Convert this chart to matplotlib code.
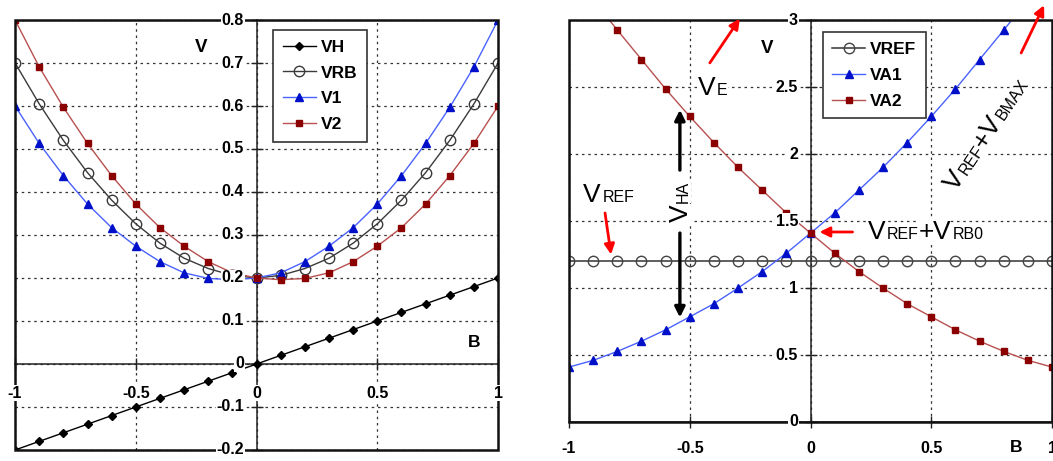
import numpy as np
import matplotlib
matplotlib.use('Agg')
import matplotlib.pyplot as plt
from matplotlib.patches import Rectangle
from matplotlib.textpath import TextPath
from matplotlib.font_manager import FontProperties

plt.rcParams['font.family'] = ['Liberation Sans', 'DejaVu Sans']

# ---- data ----
B = [-1.0, -0.9, -0.8, -0.7, -0.6, -0.5, -0.4, -0.3, -0.2, -0.1, 0.0,
     0.1, 0.2, 0.3, 0.4, 0.5, 0.6, 0.7, 0.8, 0.9, 1.0]

# left panel
VH = [-0.2, -0.18, -0.16, -0.14, -0.12, -0.1, -0.08, -0.06, -0.04, -0.02, 0.0,
      0.02, 0.04, 0.06, 0.08, 0.1, 0.12, 0.14, 0.16, 0.18, 0.2]
VRB = [0.70, 0.605, 0.52, 0.445, 0.381, 0.326, 0.281, 0.246, 0.222, 0.206, 0.20,
       0.206, 0.222, 0.246, 0.281, 0.326, 0.381, 0.445, 0.52, 0.605, 0.70]
V1 = [0.60, 0.513, 0.438, 0.372, 0.317, 0.274, 0.238, 0.212, 0.199, 0.196, 0.20,
      0.212, 0.238, 0.274, 0.317, 0.372, 0.438, 0.513, 0.597, 0.691, 0.80]
V2 = [0.80, 0.691, 0.597, 0.513, 0.438, 0.372, 0.317, 0.274, 0.238, 0.212, 0.20,
      0.196, 0.199, 0.212, 0.238, 0.274, 0.317, 0.372, 0.438, 0.513, 0.60]

# right panel
VREF = [1.2] * 21
B_A1 = B[:20]
VA1 = [0.41, 0.46, 0.527, 0.603, 0.688, 0.785, 0.883, 1.0, 1.123, 1.26, 1.41,
       1.56, 1.73, 1.90, 2.085, 2.28, 2.485, 2.705, 2.925, 3.15]
B_A2 = B[1:]
VA2 = [3.15, 2.925, 2.705, 2.485, 2.28, 2.085, 1.90, 1.73, 1.56, 1.41,
       1.26, 1.123, 1.0, 0.883, 0.785, 0.688, 0.603, 0.527, 0.46, 0.41]

LEFT_YTICKS = [0.8, 0.7, 0.6, 0.5, 0.4, 0.3, 0.2, 0.1, 0.0, -0.1, -0.2]
LEFT_YLABELS = ['0.8', '0.7', '0.6', '0.5', '0.4', '0.3', '0.2', '0.1', '0', '-0.1', '-0.2']
RIGHT_YTICKS = [3.0, 2.5, 2.0, 1.5, 1.0, 0.5, 0.0]
RIGHT_YLABELS = ['3', '2.5', '2', '1.5', '1', '0.5', '0']
XTICKS = [-1.0, -0.5, 0.0, 0.5, 1.0]
XLABELS = ['-1', '-0.5', '0', '0.5', '1']

BLUE_L, BLUE_M = '#4a62ff', '#0010c8'
RED_L, RED_M = '#b85050', '#8b0000'
GREY = '#3a3a3a'
WHITE_BOX = dict(facecolor='white', edgecolor='none', pad=0.6)


def frame_axes(ax, xlim, ylim, yticks, xticks):
    ax.set_xlim(*xlim)
    ax.set_ylim(*ylim)
    ax.set_yticks(yticks)
    ax.set_xticks(xticks)
    ax.spines['left'].set_position(('data', 0))
    ax.spines['bottom'].set_position(('data', 0))
    for s in ('left', 'bottom'):
        ax.spines[s].set_linewidth(1.1)
        ax.spines[s].set_color('#222222')
    for s in ('top', 'right'):
        ax.spines[s].set_visible(False)
    ax.add_patch(Rectangle((0, 0), 1, 1, transform=ax.transAxes, fill=False,
                           lw=1.8, ec='#111111', zorder=5, clip_on=False))
    ax.tick_params(direction='inout', length=8, width=1, color='#222222',
                   labelleft=False, labelbottom=False)
    ax.grid(True, ls=(0, (2, 3)), color='#333333', lw=0.9)
    ax.set_axisbelow(True)


def tick_labels(ax, yticks, ylabels, xlabels, xoff):
    for y, s in zip(yticks, ylabels):
        ax.annotate(s, xy=(0, y), xytext=(-9, 0), textcoords='offset points',
                    ha='right', va='center', fontsize=11.5, fontweight='bold',
                    bbox=WHITE_BOX, zorder=6, annotation_clip=False)
    for x, s in zip(XTICKS, xlabels):
        ax.annotate(s, xy=(x, 0), xytext=(0, xoff), textcoords='offset points',
                    ha='center', va='center', fontsize=11.5, fontweight='bold',
                    bbox=WHITE_BOX, zorder=6, annotation_clip=False)


def sub_label(ax, x, y, parts, rot=0):
    """big V + small subscript letters sitting on the same baseline."""
    ang = np.deg2rad(rot)
    off = 0.0
    for s, size in parts:
        ax.annotate(s, xy=(x, y), xytext=(off * np.cos(ang), off * np.sin(ang)),
                    textcoords='offset points', fontsize=size, rotation=rot,
                    rotation_mode='anchor', ha='left', va='baseline',
                    bbox=dict(facecolor='white', edgecolor='none', pad=0.3),
                    zorder=6, annotation_clip=False)
        fp = FontProperties(family='Liberation Sans', size=size)
        w = TextPath((0, 0), s, size=size, prop=fp).get_extents().width
        off += w + 0.08 * size


def arrow(ax, tail, head, color, lw=2.0):
    ax.annotate('', xy=head, xytext=tail,
                arrowprops=dict(arrowstyle='-|>', color=color, lw=lw,
                                mutation_scale=15, shrinkA=0, shrinkB=0),
                annotation_clip=False, zorder=7)


def add_legend(ax, anchor):
    leg = ax.legend(loc='upper left', bbox_to_anchor=anchor, borderaxespad=0,
                    fancybox=False, edgecolor='#333333', framealpha=1,
                    prop={'weight': 'bold', 'size': 12.5}, handlelength=1.9,
                    handletextpad=0.3, labelspacing=0.62, borderpad=0.55)
    leg.get_frame().set_linewidth(1.2)
    leg.set_zorder(8)


fig = plt.figure(figsize=(10.53, 4.61), dpi=100)

# ---------------- left panel ----------------
ax1 = fig.add_axes([0.0143, 0.0239, 0.4587, 0.9327])
frame_axes(ax1, (-1, 1), (-0.2, 0.8), LEFT_YTICKS, XTICKS)

ax1.plot(B, VH, color='black', lw=1, marker='D', ms=3.8, label='VH', zorder=3)
ax1.plot(B, VRB, color=GREY, lw=1, marker='o', ms=7.5, mfc='none', mec=GREY,
         mew=1, label='VRB', zorder=3)
ax1.plot(B, V1, color=BLUE_L, lw=1, marker='^', ms=5.5, mfc=BLUE_M, mec=BLUE_M,
         label='V1', zorder=3)
ax1.plot(B, V2, color=RED_L, lw=1, marker='s', ms=5, mfc=RED_M, mec=RED_M,
         label='V2', zorder=3)
tick_labels(ax1, LEFT_YTICKS, LEFT_YLABELS, XLABELS, -21)
ax1.text(-0.23, 0.737, 'V', fontsize=13.5, fontweight='bold', ha='center', va='center')
ax1.text(0.90, 0.051, 'B', fontsize=12.5, fontweight='bold', ha='center', va='center')
add_legend(ax1, (0.534, 0.977))

# ---------------- right panel ----------------
ax2 = fig.add_axes([0.5404, 0.0846, 0.4587, 0.872])
frame_axes(ax2, (-1, 1), (0, 3), RIGHT_YTICKS, XTICKS)

ax2.plot(B, VREF, color='#333333', lw=1.1, marker='o', ms=7.5, mfc='none',
         mec='#444444', mew=1, label='VREF', zorder=3)
ax2.plot(B_A1, VA1, color=BLUE_L, lw=1, marker='^', ms=5.5, mfc=BLUE_M,
         mec=BLUE_M, label='VA1', zorder=3)
ax2.plot(B_A2, VA2, color=RED_L, lw=1, marker='s', ms=5, mfc=RED_M, mec=RED_M,
         label='VA2', zorder=3)
tick_labels(ax2, RIGHT_YTICKS, RIGHT_YLABELS, XLABELS, -19)
ax2.text(-0.178, 2.79, 'V', fontsize=13.5, fontweight='bold', ha='center', va='center')
ax2.text(0.851, -0.19, 'B', fontsize=12.5, fontweight='bold', ha='center', va='center')
add_legend(ax2, (0.525, 0.970))

# annotations
big, small = 19, 11.5
sub_label(ax2, -0.467, 2.44, [('V', big), ('E', small)])
sub_label(ax2, -0.942, 1.64, [('V', big), ('REF', small)])
sub_label(ax2, -0.508, 1.49, [('V', big), ('HA', small)], rot=90)
sub_label(ax2, 0.236, 1.366, [('V', big), ('REF', small), ('+', big),
                              ('V', big), ('RB0', small)])
sub_label(ax2, 0.603, 1.716, [('V', big), ('REF', small), ('+', big),
                              ('V', big), ('BMAX', small)], rot=56)

arrow(ax2, (-0.417, 2.68), (-0.293, 3.01), 'red')
arrow(ax2, (-0.851, 1.56), (-0.826, 1.25), 'red')
arrow(ax2, (0.174, 1.418), (0.037, 1.418), 'red')
arrow(ax2, (0.872, 2.754), (0.967, 3.11), 'red')
arrow(ax2, (-0.541, 1.88), (-0.541, 2.33), 'black', lw=2.4)
arrow(ax2, (-0.541, 1.41), (-0.541, 0.78), 'black', lw=2.4)

fig.savefig('out.png', dpi=100)
plt.close(fig)
